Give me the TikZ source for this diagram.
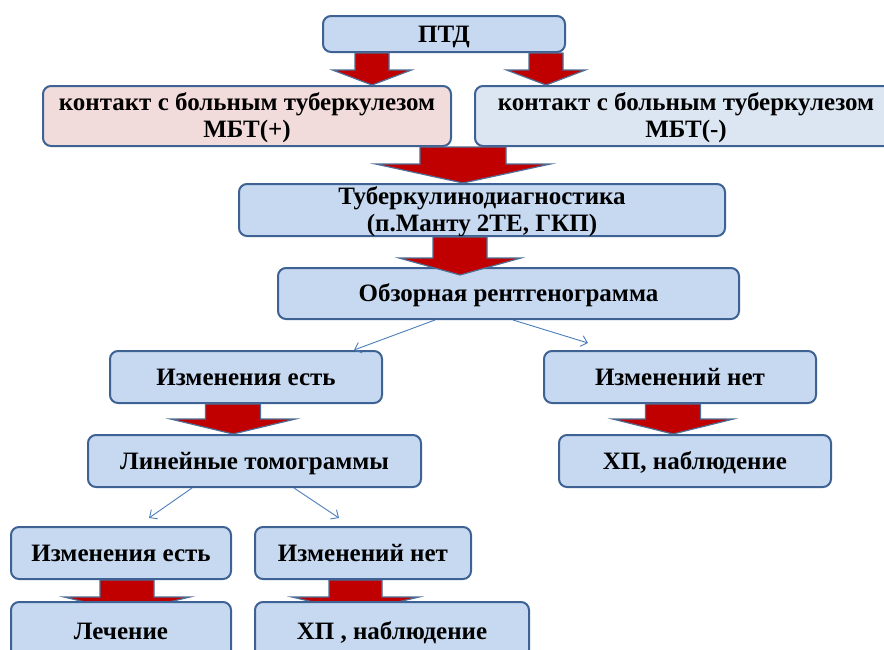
\documentclass[tikz,border=0pt]{standalone}
\usepackage{fontspec}
\setmainfont{Liberation Serif}
\usetikzlibrary{arrows.meta,calc,backgrounds}

\definecolor{boxfill}{HTML}{C6D9F1}
\definecolor{pinkfill}{HTML}{F2DCDB}
\definecolor{palefill}{HTML}{DCE6F2}
\definecolor{boxline}{HTML}{3E6293}
\definecolor{arrowred}{HTML}{C00000}
\definecolor{arrowline}{HTML}{4F6E96}
\definecolor{thinline}{HTML}{4A7EBB}

\tikzset{
  box/.style={draw=boxline, line width=2pt, fill=boxfill, rounded corners=8pt,
    inner sep=0pt, align=center,
    font=\bfseries\fontsize{25}{27}\selectfont,
    text height=16.5pt, text depth=0pt},
  twoline/.style={text height=43.5pt},
  blockarrow/.style={fill=arrowred, draw=arrowline, line width=1.2pt, line join=miter},
  thinarrow/.style={draw=thinline, line width=0.9pt,
    -{Straight Barb[length=6pt,width=11pt]}},
}

% thick block arrow: from node, to node, x of axis, half shaft width,
% half head width, head length, how far the tip reaches past the target top
\newcommand\bigarrow[7]{%
  \path (#3,0 |- #1.south) coordinate (ba-s) (#3,0 |- #2.north) coordinate (ba-t);
  \draw[blockarrow] let \p1=(ba-s), \p2=(ba-t) in
    (\x1-#4pt,\y1) -- (\x1+#4pt,\y1) -- (\x1+#4pt,\y2-#7pt+#6pt)
    -- (\x1+#5pt,\y2-#7pt+#6pt) -- (\x1,\y2-#7pt)
    -- (\x1-#5pt,\y2-#7pt+#6pt) -- (\x1-#4pt,\y2-#7pt+#6pt) -- cycle;
}

\begin{document}
\begin{tikzpicture}[x=1pt,y=-1pt]
  \useasboundingbox (0,0) rectangle (884,649);
  \begin{pgfonlayer}{background}
    \fill[white] (0,0) rectangle (884,649);
  \end{pgfonlayer}
  \clip (0,0) rectangle (884,649);

  % boxes
  \node[box, minimum width=242pt, minimum height=36pt] (ptd) at (444,34) {ПТД};
  \node[box, twoline, fill=pinkfill, minimum width=408pt, minimum height=60pt] (c2l) at (247,116)
    {контакт с больным туберкулезом\\МБТ(+)};
  \node[box, twoline, fill=palefill, minimum width=422pt, minimum height=60pt] (c2r) at (686,116)
    {контакт с больным туберкулезом\\МБТ(-)};
  \node[box, twoline, minimum width=486pt, minimum height=52pt] (tub) at (482,210)
    {Туберкулинодиагностика\\(п.Манту 2ТЕ, ГКП)};
  \node[box, minimum width=461pt, minimum height=51pt] (obz) at (508.5,293.5)
    {Обзорная рентгенограмма};
  \node[box, minimum width=272pt, minimum height=52pt] (izm1) at (246,377) {Изменения есть};
  \node[box, minimum width=333pt, minimum height=52pt] (lin) at (254.5,461) {Линейные томограммы};
  \node[box, minimum width=272pt, minimum height=52pt] (net1) at (680,377) {Изменений нет};
  \node[box, minimum width=272pt, minimum height=52pt] (hp1) at (695,461) {ХП, наблюдение};
  \node[box, minimum width=220pt, minimum height=52pt] (izm2) at (121,553) {Изменения есть};
  \node[box, minimum width=216pt, minimum height=52pt] (net2) at (363,553) {Изменений нет};
  \node[box, minimum width=220pt, minimum height=58pt] (lech) at (121,631) {Лечение};
  \node[box, minimum width=274pt, minimum height=58pt] (hp2) at (392,631) {ХП , наблюдение};

  % block arrows
  \bigarrow{ptd}{c2l}{372}{17}{39.5}{15}{0}
  \bigarrow{ptd}{c2r}{546}{17}{39.5}{15}{0}
  \bigarrow{c2l}{tub}{463}{43}{87.5}{19}{0}
  \bigarrow{tub}{obz}{460}{27}{61}{17}{8}
  \bigarrow{izm1}{lin}{233}{27.5}{62.5}{15}{0}
  \bigarrow{net1}{hp1}{673}{27.5}{60.5}{15}{0}
  \begin{pgfonlayer}{background}
    \bigarrow{izm2}{lech}{127}{27}{63}{15}{11}
    \bigarrow{net2}{hp2}{355.5}{26.5}{63.5}{15}{11}
  \end{pgfonlayer}

  % thin branching arrows
  \draw[thinarrow] (435,0 |- obz.south) -- (354,0 |- izm1.north);
  \draw[thinarrow] (513,0 |- obz.south) -- ($(588,0 |- net1.north)+(0,-7)$);
  \draw[thinarrow] (192,0 |- lin.south) -- ($(149,0 |- izm2.north)+(0,-8)$);
  \draw[thinarrow] (294,0 |- lin.south) -- ($(339,0 |- net2.north)+(0,-8)$);
\end{tikzpicture}
\end{document}
